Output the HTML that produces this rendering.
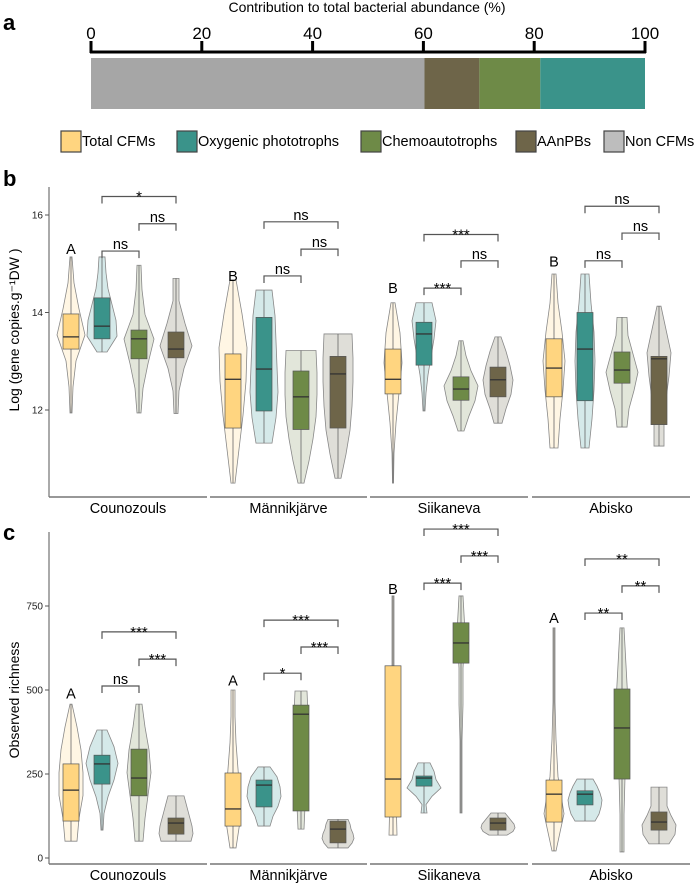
<!DOCTYPE html>
<html><head><meta charset="utf-8"><style>
body{margin:0;background:#fff;}
svg{display:block;font-family:"Liberation Sans",sans-serif;}
</style></head><body>
<svg id="fig" width="700" height="883" viewBox="0 0 700 883" xmlns="http://www.w3.org/2000/svg">
<text x="3" y="30" font-size="22" font-weight="bold">a</text>
<text x="3" y="186" font-size="22" font-weight="bold">b</text>
<text x="3" y="540" font-size="22" font-weight="bold">c</text>
<text x="367" y="12" font-size="14" text-anchor="middle">Contribution to total bacterial abundance (%)</text>
<g id="pa"></g>
<g id="legend"></g>
<g id="pb"></g>
<g id="pc"></g>
<text transform="translate(19,330) rotate(-90)" font-size="14" text-anchor="middle">Log (gene copies.g⁻¹DW )</text>
<text transform="translate(19,700) rotate(-90)" font-size="14" text-anchor="middle">Observed richness</text>
</svg>
<script>
// ---------- Panel a data ----------
const aCats = ["Non CFMs","AAnPBs","Chemoautotrophs","Oxygenic phototrophs"];
const aVals = [60.2, 9.9, 11.0, 18.9];
const aTicks = [0,20,40,60,80,100];
// ---------- Legend ----------
const legendLabels = ["Total CFMs","Oxygenic phototrophs","Chemoautotrophs","AAnPBs","Non CFMs"];
// ---------- Shared ----------
const sites = ["Counozouls","Männikjärve","Siikaneva","Abisko"];
const groups = ["Total CFMs","Oxygenic phototrophs","Chemoautotrophs","AAnPBs"];
// Panel b: [min,q1,median,q3,max] per site per group
const bStats = [
 [[11.94,13.25,13.5,13.97,15.14],[13.19,13.46,13.72,14.3,15.14],[11.94,13.05,13.46,13.64,14.97],[11.93,13.07,13.25,13.6,14.7]],
 [[10.5,11.63,12.63,13.15,14.67],[11.32,11.98,12.84,13.9,14.46],[10.5,11.6,12.27,12.8,13.22],[10.6,11.63,12.74,13.1,13.56]],
 [[10.5,12.33,12.63,13.25,14.2],[11.98,12.92,13.56,13.8,14.2],[11.57,12.2,12.43,12.68,13.42],[11.73,12.27,12.62,12.88,13.5]],
 [[11.22,12.27,12.86,13.46,14.79],[11.22,12.19,13.25,14.0,14.79],[11.65,12.55,12.82,13.19,13.9],[11.26,11.7,13.05,13.1,14.13]]
];
// relative density (7 samples min->max)
const bDens = [
 [[1,2,5,14,8,3,1],[5,15,14,10,6,4,3],[2,4,9,15,6,3,2],[2,3,8,16,9,3,3]],
 [[2,6,10,13,14,9,3],[8,12,14,13,12,11,8],[3,8,12,15,16,16,15],[3,8,12,14,15,15,14]],
 [[0.5,1,3,6,9,7,2],[1,2,4,7,10,12,8],[3,8,14,17,10,5,2],[4,8,13,15,12,8,3]],
 [[4,6,9,11,8,4,2],[4,7,9,10,9,6,4],[5,7,12,16,11,6,5],[5,5,7,10,12,7,2]]
];
const bLetters = ["A","B","B","B"];
const bLetterVals = [15.3, 14.75, 14.5, 15.05];
// brackets: [groupFrom, groupTo, level, label]
const bBrackets = [
 [[1,3,16.38,"*"],[2,3,15.82,"ns"],[1,2,15.26,"ns"]],
 [[1,3,15.86,"ns"],[2,3,15.3,"ns"],[1,2,14.75,"ns"]],
 [[1,3,15.6,"***"],[2,3,15.06,"ns"],[1,2,14.5,"***"]],
 [[1,3,16.18,"ns"],[2,3,15.63,"ns"],[1,2,15.06,"ns"]]
];
const bTicks = [12,14,16];
// Panel c
const cStats = [
 [[50,110,202,280,458],[83,220,280,306,381],[50,185,238,324,458],[50,71,104,119,185]],
 [[30,95,146,253,500],[95,152,217,232,271],[86,140,428,455,497],[30,45,86,110,115]],
 [[68,122,235,572,780],[134,214,238,244,283],[134,580,640,700,780],[68,83,104,119,134]],
 [[21,107,190,232,685],[110,158,190,200,235],[18,235,387,503,685],[42,83,107,137,211]]
];
const cDens = [
 [[6,8,12,12,10,6,1],[1,2,6,12,16,12,5],[4,6,9,12,10,6,3],[15,17,16,14,12,10,8]],
 [[3,7,7,5,3,2,2],[6,9,14,17,16,13,6],[3,4,5,6,7,7,6],[10,14,16,15,13,12,10]],
 [[4,3,2,2,1,1,1],[3,2,8,17,12,10,6],[1,1,1,2,2,4,2],[9,15,17,16,13,10,7]],
 [[2,10,4,2,1,1,1],[10,14,16,17,15,12,8],[2,2,3,5,6,4,2],[10,16,17,12,8,8,8]]
];
const cLetters = ["A","A","B","A"];
const cLetterVals = [490, 528, 800, 715];
const cBrackets = [
 [[1,3,673,"***"],[2,3,592,"***"],[1,2,512,"ns"]],
 [[1,3,708,"***"],[2,3,628,"***"],[1,2,550,"*"]],
 [[1,3,979,"***"],[2,3,899,"***"],[1,2,818,"***"]],
 [[1,3,890,"**"],[2,3,810,"**"],[1,2,729,"**"]]
];
const cTicks = [0,250,500,750];

const NS="http://www.w3.org/2000/svg";
function mk(tag, parent, attrs){const e=document.createElementNS(NS,tag);for(const k in attrs)e.setAttribute(k,attrs[k]);parent.appendChild(e);return e;}
const boxCol=["#FFD580","#3A938A","#6E8A47","#6E6549"];
const vioCol=["#FFF6E4","#D5E9E9","#E2E6DA","#DFDED8"];
const legCol=["#FFD580","#3A938A","#6E8A47","#6E6549","#BDBDBD"];
const segCol=["#A6A6A6","#6E6549","#6E8A47","#3A938A"];

// Panel a
const pa=document.getElementById('pa');
const ax=v=>91+v*(645-91)/100;
let acc=0;
aVals.forEach((v,i)=>{
 const r=mk('rect',pa,{x:ax(acc),y:58,width:ax(acc+v)-ax(acc),height:51,fill:segCol[i]});
 
 
 acc+=v;
});
mk('line',pa,{x1:ax(0)-1,x2:ax(100)+1,y1:52,y2:52,stroke:'#000','stroke-width':3});
aTicks.forEach(t=>{
 mk('line',pa,{x1:ax(t),x2:ax(t),y1:41,y2:53,stroke:'#000','stroke-width':3});
 const tx=mk('text',pa,{x:ax(t),y:39,'font-size':17,'text-anchor':'middle'});tx.textContent=t;
 
 
});
// Legend
const lg=document.getElementById('legend');
const lgX=[61,177,361,516,604];
legendLabels.forEach((l,i)=>{
 const r=mk('rect',lg,{x:lgX[i],y:131,width:20,height:21,fill:legCol[i],stroke:'#444','stroke-width':1.2});
 
 
 const t=mk('text',lg,{x:lgX[i]+21,y:146,'font-size':14.5});t.textContent=l;
 
 
});

const siteBase=[71,233,393,554], off=[0,31,68,105];
const segs=[[49,207],[210,367],[370,528],[532,690]];
function drawPanel(g, stats, dens, letters, lv, brackets, ticks, yf, axTop, axBot, prefix){
 mk('line',g,{x1:49,x2:49,y1:axTop,y2:axBot,stroke:'#555','stroke-width':1});
 ticks.forEach(t=>{
  mk('line',g,{x1:45,x2:49,y1:yf(t),y2:yf(t),stroke:'#555'});
  const tx=mk('text',g,{x:43,y:yf(t)+3.5,'font-size':10,'text-anchor':'end',fill:'#222'});tx.textContent=t;
  
  
 });
 sites.forEach((s,si)=>{
  mk('line',g,{x1:segs[si][0],x2:segs[si][1],y1:axBot,y2:axBot,stroke:'#777','stroke-width':1.5});
  const st=mk('text',g,{x:(segs[si][0]+segs[si][1])/2,y:axBot+16,'font-size':14.5,'text-anchor':'middle'});st.textContent=s;
  
  
  groups.forEach((gn,gi)=>{
   const cx=siteBase[si]+off[gi];const [mn,q1,md,q3,mx]=stats[si][gi];const d=dens[si][gi];
   const n=d.length;let L=[],R=[];
   d.forEach((w,k)=>{const v=mn+(mx-mn)*k/(n-1);const y=yf(v);L.push([cx-w,y]);R.push([cx+w,y]);});
   const pts=L.concat(R.reverse()).map(p=>p.join(',')).join(' ');
   const vp=mk('polygon',g,{points:pts,fill:vioCol[gi],stroke:'#888','stroke-width':0.8});
   
   
   mk('line',g,{x1:cx,x2:cx,y1:yf(mn),y2:yf(mx),stroke:'#666','stroke-width':0.8});
   const bx=mk('rect',g,{x:cx-8,y:yf(q3),width:16,height:yf(q1)-yf(q3),fill:boxCol[gi],stroke:'#555','stroke-width':0.7});
   
   
   mk('line',g,{x1:cx-8,x2:cx+8,y1:yf(md),y2:yf(md),stroke:'#333','stroke-width':1.3});
  });
  const lt=mk('text',g,{x:siteBase[si],y:yf(lv[si])+5,'font-size':14.5,'text-anchor':'middle'});lt.textContent=letters[si];
  
  
  brackets[si].forEach(b=>{
   const x1=siteBase[si]+off[b[0]],x2=siteBase[si]+off[b[1]],y=yf(b[2]);
   const p=mk('path',g,{d:`M${x1},${y+7}V${y}H${x2}V${y+7}`,fill:'none',stroke:'#555','stroke-width':1.2});
   
   
   const t=mk('text',g,{x:(x1+x2)/2,y:b[3]==='ns'?y-2:y+5,'font-size':b[3]==='ns'?14.5:15,'text-anchor':'middle'});t.textContent=b[3];
   
   
  });
 });
}
drawPanel(document.getElementById('pb'),bStats,bDens,bLetters,bLetterVals,bBrackets,bTicks,v=>410-(v-12)*48.75,187,497,'b');
drawPanel(document.getElementById('pc'),cStats,cDens,cLetters,cLetterVals,cBrackets,cTicks,v=>858-v*0.336,532,864,'c');
</script>
</body></html>
